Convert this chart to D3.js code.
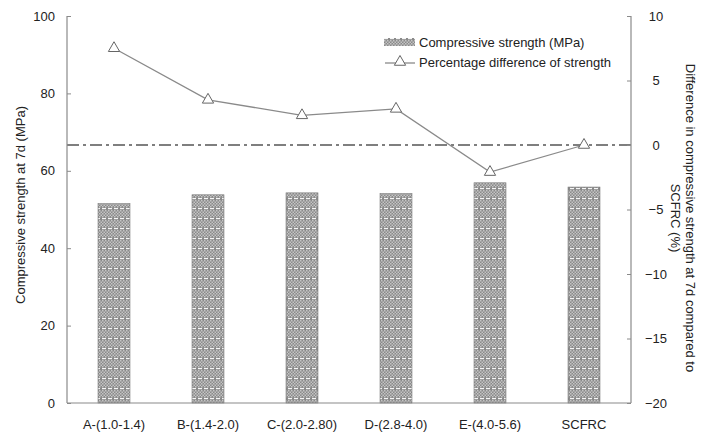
<!DOCTYPE html>
<html><head><meta charset="utf-8">
<script src="https://cdn.jsdelivr.net/npm/d3@7"></script>
<style>body{margin:0;background:#fff}svg{display:block;font-family:"Liberation Sans",Arial,sans-serif}</style>
</head><body><svg id="c" width="702" height="434"></svg>
<script>
const categories = ["A-(1.0-1.4)","B-(1.4-2.0)","C-(2.0-2.80)","D-(2.8-4.0)","E-(4.0-5.6)","SCFRC"];
const strength = [51.5, 53.8, 54.3, 54.1, 56.9, 55.8];
const diffPct = [7.5, 3.5, 2.3, 2.8, -2.1, 0];
const leftTicks = [0,20,40,60,80,100];
const rightTicks = [-20,-15,-10,-5,0,5,10];

const svg = d3.select("#c");
const L=67,R=631,T=16,B=403;
const x = d3.scaleBand().domain(categories).range([L,R]).paddingInner(0.66).paddingOuter(0.33);
const yL = d3.scaleLinear().domain([0,100]).range([B,T]);
const yR = d3.scaleLinear().domain([-20,10]).range([B,T]);

const defs = svg.append("defs");
const p = defs.append("pattern").attr("id","pat").attr("patternUnits","userSpaceOnUse").attr("width",6).attr("height",10);
p.append("rect").attr("width",6).attr("height",10).attr("fill","#8a8a8a");
[[0,0],[3,0],[1.5,1.5],[4.5,1.5],[0,3],[3,3],[1.5,4.5],[4.5,4.5],[0,6],[3,6]].forEach(([a,b])=>p.append("rect").attr("x",a).attr("y",b).attr("width",1.5).attr("height",1.5).attr("fill","#c4c4c4"));
p.append("rect").attr("x",0).attr("y",8).attr("width",4).attr("height",1.2).attr("fill","#f6f6f6");

const axColor="#8a8a8a", txt="#222", fs="13px";

// bars
svg.append("g").selectAll("rect").data(categories).join("rect")
  .attr("x",d=>x(d)).attr("width",x.bandwidth())
  .attr("y",(d,i)=>yL(strength[i])).attr("height",(d,i)=>B-yL(strength[i]))
  .attr("fill","url(#pat)").attr("stroke","#777").attr("stroke-width",0.6);

// zero reference line
svg.append("line").attr("x1",L).attr("x2",R).attr("y1",yR(0)).attr("y2",yR(0))
  .attr("stroke","#555").attr("stroke-width",1.4).attr("stroke-dasharray","12,4,3,4");

// axes
const gl = svg.append("g").attr("transform",`translate(${L},0)`)
  .call(d3.axisLeft(yL).tickValues(leftTicks).tickSize(-4).tickPadding(12));
const gr = svg.append("g").attr("transform",`translate(${R},0)`)
  .call(d3.axisRight(yR).tickValues(rightTicks).tickSize(-4).tickPadding(16));
const gb = svg.append("g").attr("transform",`translate(0,${B})`)
  .call(d3.axisBottom(x).tickSize(0).tickPadding(17));
[gl,gr,gb].forEach(g=>{
  g.select(".domain").attr("stroke",axColor).attr("stroke-width",1.2);
  g.selectAll(".tick line").attr("stroke",axColor);
  g.selectAll("text").attr("fill",txt).attr("font-size",fs).attr("font-family","Liberation Sans, Arial, sans-serif");
});
gb.select(".domain").attr("d",`M${L},0H${R}`);
gl.select(".domain").attr("d",`M0,${B}V${T}`);
gr.select(".domain").attr("d",`M0,${B}V${T}`);
gr.selectAll("text").attr("text-anchor","middle").attr("x",25);

// line
const lx = (d,i)=>x(categories[i])+x.bandwidth()/2;
svg.append("path").datum(diffPct)
  .attr("d",d3.line().x((d,i)=>lx(d,i)).y(d=>yR(d)))
  .attr("fill","none").attr("stroke","#8a8a8a").attr("stroke-width",1.3);
const tri = d3.symbol().type(d3.symbolTriangle).size(55);
svg.append("g").selectAll("path").data(diffPct).join("path")
  .attr("d",tri).attr("transform",(d,i)=>`translate(${lx(d,i)},${yR(d)})`)
  .attr("fill","#fff").attr("stroke","#666").attr("stroke-width",1);

// axis titles
svg.append("text").attr("transform",`translate(25,205) rotate(-90)`)
  .attr("text-anchor","middle").attr("font-size",fs).attr("fill",txt)
  .text("Compressive strength at 7d (MPa)");
const rt = svg.append("g").attr("transform",`translate(686,218) rotate(90)`);
rt.append("text").attr("text-anchor","middle").attr("y",0).attr("font-size",fs).attr("fill",txt)
  .text("Difference in compressive strength at 7d compared to");
rt.append("text").attr("text-anchor","middle").attr("y",15).attr("font-size",fs).attr("fill",txt)
  .text("SCFRC (%)");

// legend
const lg = svg.append("g");
lg.append("rect").attr("x",384).attr("y",38).attr("width",31).attr("height",8).attr("fill","url(#pat)");
lg.append("text").attr("x",419).attr("y",47).attr("font-size",fs).attr("fill",txt).text("Compressive strength (MPa)");
lg.append("line").attr("x1",385).attr("x2",415).attr("y1",63).attr("y2",63).attr("stroke","#8a8a8a").attr("stroke-width",1.3);
lg.append("path").attr("d",tri).attr("transform","translate(400,62)").attr("fill","#fff").attr("stroke","#666");
lg.append("text").attr("x",419).attr("y",67).attr("font-size",fs).attr("fill",txt).text("Percentage difference of strength");
</script></body></html>
